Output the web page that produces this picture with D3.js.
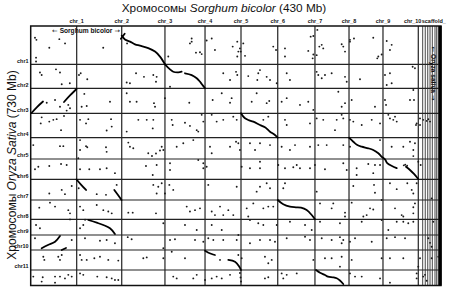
<!DOCTYPE html>
<html><head><meta charset="utf-8">
<script src="https://cdn.jsdelivr.net/npm/d3@7"></script>
<style>body{margin:0;background:#fff} svg{display:block}</style>
</head><body>
<script>
// ---- DATA ----
const sorghumChrs = ["chr_1","chr_2","chr_3","chr_4","chr_5","chr_6","chr_7","chr_8","chr_9","chr_10"];
const sorghumSizes = [48.2,47.2,45.3,42.0,37.7,38.5,39.0,35.7,35.6,37.0];
const scaffoldSizes = [4.6,2.7,2.6,2.4,2.4,2.8,1.8,1.7,0.6,0.6,0.6,0.6,0.6];
const scaffoldLabel = "scaffold_";
const riceChrs = ["chr1","chr2","chr3","chr4","chr5","chr6","chr7","chr8","chr9","chr10","chr11","chr12"];
const riceSizes = [107.7,67.6,70.3,68.6,59.9,57.1,58.3,54.3,44.1,42.2,56.3,43.6];
const sorghumTotal = 430, riceTotal = 730;

// synteny blocks [sorghum Mb, rice Mb]
const syntenyBlocks = [
 [[94.5,36],[98.5,22]],
 [[95.4,27],[98.8,38],[104.1,44],[109.3,51.5],[114.5,55.4],[123.2,62],[130.3,72],[135.5,86],[140.7,107.7]],
 [[140.7,107.7],[146,122],[149.4,128.6],[154.7,130.2],[158.2,128.6]],
 [[161.7,133],[168.7,138],[174,147],[177.4,156.7],[179.2,163],[182.7,175.3]],
 [[0.8,244.7],[6.6,228],[12.9,212.4]],
 [[34.9,213.8],[41.2,195.5],[48,177.2]],
 [[220.4,245.6],[222.2,253],[224.6,259.6],[228,264.4],[233.3,269.2],[240.3,278.5],[245.5,285],[250.8,297.3],[256,306.6],[258.9,314.2]],
 [[333.6,314.2],[338.1,325.5],[342.3,334.7],[346.9,339.5],[353.8,344],[359,348.8],[364.3,358],[367.8,367.7],[371.3,375],[373.7,386],[378.6,394],[383.6,400]],
 [[393.3,396],[397.5,405],[401.7,416],[406.2,430.4]],
 [[48,431.8],[52.7,446],[58,461.3]],
 [[87.6,461.3],[91.5,475.4],[95.2,489.5]],
 [[258.9,489.5],[264.7,501.6],[271.7,508.3],[278,510],[283.3,511],[289.2,517.6],[294.5,531.7],[297.9,543.8]],
 [[60.4,545.7],[69.2,553.3],[76.1,559.8],[83.1,569],[88.3,585]],
 [[11.5,625.3],[18.1,616],[25.5,606.8],[30.7,590.7]],
 [[32.5,630.1],[37,624.5]],
 [[182.7,632],[185.8,637],[189.7,641.4],[193.1,644.2]],
 [[207.1,658.2],[214.1,663],[218.6,677],[220.4,686.4]],
 [[299,686.4],[303.2,694],[308.4,700.4],[311.6,705],[317.1,707],[320.7,709.7],[324.1,716],[327.6,725.8]]
];

// scattered matches [sorghum Mb, rice Mb]
const dots = [
[4.5,33],[6,39],[30,37],[19.5,61],[36,49],[76,61],[5.6,89],[5.6,100],[101,49],
[9.7,131],[11.5,138],[26.5,122],[30.7,131],[32.5,164],[41,161],[50.6,138],[52.4,133],[59.3,150],[110.4,133],[118.7,143],[100.6,159],[104,161],
[56.2,191],[16.8,216],[25.5,208],[30.7,227],[39.4,222],[41.2,231.5],[37.7,238],[53.4,227],[58.7,225],[83.1,213],[104,213],[111,213],[100.6,189],
[11.5,257],[10.5,274],[19.5,269],[23.7,264],[27.2,262],[34.9,253],[31.8,293],[51.7,264],[60.4,262],[58,274],[84.2,262],[84.9,283],[79.6,294],[112.8,264],[121.6,264],[100.6,297],
[2.7,335],[30.7,338],[34.2,338],[51.7,321],[51.7,349],[58,338],[59.3,341],[78.9,341],[79.6,354],[104,339.5],[107.5,344],[102.3,328],[123.2,358],[8,396],[49.9,372],
[4.5,403],[19.5,394],[31.8,388],[37.7,391],[51.7,403],[61.4,403],[72.6,403],[79.6,400],[88.3,414],[120.8,394],
[19.5,471],[32.5,461],[35.9,473],[43,450],[50.3,456.5],[69.2,473],[78.9,475],[90.1,447],
[9,511],[20.2,497],[25.5,508],[39.4,518],[41.2,527],[51.7,508],[55.1,518],[69.2,503.5],[76.1,518],[81.3,522],[84.9,527],[102.3,525],[106.9,525],
[5.6,560],[9.7,569],[41.2,544],[55.1,560],[51.7,569],[57,545],[62,546],
[4.5,597],[43,602],[56.9,597],[72.6,604],[79.6,602],[88.3,611],[101.7,594],[105.8,600],
[13.2,649],[14.3,658],[28.9,649],[30.7,658],[32.5,644],[51.7,644],[53.4,658],[58.7,658],[66.7,653.5],[72.6,649],[81.3,658],[91.8,660],[118,653.5],[121.6,651],
[2.7,705],[12.6,707],[25.5,705],[30.7,705],[35.9,710],[39.4,700],[43,705],[51.7,696],[55.1,700],[69.8,705],[79.6,707],[84.9,710],[88.3,714.5],[91.8,714.5],[11.5,719],[25.5,722],
[166.9,49],[173.2,75],[179.2,79],[184.4,41],[211.7,58],[217.6,72],[224.6,84],[254.2,58],[257.1,67.5],[266.5,86],
[128.5,138],[132,143],[131.3,157],[146,171],[201.8,133],[215.2,129],[216.5,138],[208.9,152],[228,141],[238.5,133],[240.3,124],[247.3,143],[250.8,152],[237.5,152],[257.8,161],[268.3,133],[271.7,152],
[129.2,217],[130.3,227],[140.7,203],[166.2,216],[190.7,208],[200.2,189],[210.6,203],[208.9,216],[231.6,213],[236.8,189],[247.3,217],[250,211],[263,213],[268.3,203],
[128.5,264],[127.9,288],[147.8,264],[148.8,278.5],[161.7,272],[166.9,281],[174,293],[179.2,250],[180.9,269],[175.6,297],[189.7,250],[194.9,269],[201.8,264],[212.3,255],[215.9,264],[243.8,264],[249,255],[266.5,264],[268.3,278.5],
[139,349],[137.3,339.5],[153,339.5],[159.9,330],[170.4,321],[187.9,339.5],[189.7,358],[208.9,339.5],[215.2,325.5],[217.6,330],[219.3,349],[229.8,330],[235.1,349],[240.3,330],[250.8,335],[263,339.5],[271.7,349],[277,335],
[132,391],[175.6,377],[180.9,386],[184.4,396],[221.1,396],[240.3,400],[259.5,391],[278.8,391],[127.1,365.7],[131.3,358.7],[135.5,350.2],
[144.2,86],[168.7,35],[168.7,44],[177.4,74],[189.7,35],[193.1,67.5],[216.5,44],[219.3,63],[220.1,72],[222.8,49],[216.5,86],[266.5,63],
[293.4,30],[300.4,11],[290.9,70],[296.2,80],[295.5,91],[302.5,58],[305,53],[306.6,63],[299.7,82],[325.9,51.5],[327.6,58],[329.4,72],[334.6,39],[334.6,44],[338.8,35],[359,33],[373.1,42],[378.3,53],[376.5,67.5],[367.8,80],[364.3,86],[363.2,91],[296.2,28],
[299.7,129],[301.4,138],[305,147],[308.4,138],[315.4,133],[329.4,143],[331.2,157],[345.1,150],[371.3,138],[376.5,133],[373.1,166],[378.3,161],[402.7,119],
[282.2,222],[290.9,213],[296.2,236],[322.4,185],[329.4,217],[325.9,227],[336.4,208],[360.8,227],[371.3,208],[372.4,222],[397.5,208],[401,180],
[292.7,274],[299.7,260],[306.6,264],[320.7,264],[325.9,250],[327.6,260],[318.9,293],[334.6,264],[338.1,269],[346.9,278.5],[357.4,264],[366.1,274],[374.8,250],[376.5,260],[380,264],[381.8,255],[383.6,269],[411.4,264],[416.7,262.5],
[292.7,339.5],[301.4,335],[310.2,335],[327.6,335],[334.6,339.5],[366.1,321],[378.3,339.5],[390.5,339.5],[401,349],[402.7,330],
[297.9,391],[327.6,386],[341.6,400],[360.8,391],
[400.3,114.5],[401.7,208],[408,260],[415,267],[418.5,269],[404.5,274],[397.5,325.5],[403.8,278.5],[408,278.5],
[146,386],[146,405],[180.9,400],[240.3,382],[229.8,400],[266.5,400],[275.2,397.5],
[127.9,419],[128.5,447],[133.7,452],[137.3,442.5],[132,471],[140.7,471],[145.3,447],[149.4,461],[186.1,447],[215.9,452],[240.3,452],[236.8,466],[247.3,442.5],[250.8,456.5],[264.7,456.5],[266.5,442.5],
[131.3,527],[163.5,508],[166.9,522],[172.2,518],[177.4,513],[189.7,522],[193.1,532],[201.8,532],[198.4,508],[207.1,518],[212.3,532],[226.4,513],[233.3,499],[228,536],[243.8,513],[249,508],[254.2,508],
[139,555],[161.7,560],[174,574],[189.7,560],[200.2,574],[217.6,588],[229.8,546],[238.5,555],[243.8,560],[257.8,560],[271.7,550.5],
[146,602],[151.2,600],[172.2,602],[180.9,607],[186.1,597],[191.4,602],[201.8,602],[215.9,602],[229.8,611],[240.3,602],[250.8,602],[256,607],[268.3,597],
[139,625],[147.8,635],[139,653.5],[161.7,653.5],[198.4,658],[217.6,644],[221.1,653.5],[245.5,649],[252.6,658],[249,667.5],
[149.4,705],[153,710],[170.4,710],[174,700],[189.7,710],[194.9,705],[200.2,710],[208.9,700],[245.5,710],[249,707],[263,696],[264.7,710],[268.3,700],[278.8,696],[182.7,714.5],[219.3,694.8],[219.9,707.5],[220.4,718.7],
[282.2,400],[292.7,400],[308.4,403],[331.2,405],[341.6,419],[353.8,388],[366.1,391],[359,414],
[299.7,466],[338.1,450],[359.8,447],[360.8,469],[383.6,459],[376.5,442.5],[401,471],[404.5,442.5],[394.7,442.5],[399.3,461],
[303.2,499],[317.1,499],[315.4,513],[329.4,525],[329.4,536],[336.4,497],[348.6,536],[352.1,532],[355.6,513],[359,516],[367.8,489.5],[381.8,513],[388.8,532],[402.7,499],[401,527],[401,510],
[287.5,560],[294.5,574],[303.2,550.5],[324.1,555],[346.9,550.5],[367.8,546],[374.8,574],[383.6,550.5],[390.5,550.5],[395.7,555],[401,550.5],[421.9,550.5],[390.5,536],
[287.5,593],[292.7,602],[305,597],[315.4,602],[324.1,594],[327.6,602],[325.9,611],[334.6,607],[339.9,597],[357.4,607],[373.1,597],[381.8,594],[416.7,597],[418.5,610],[420.2,621],[392.3,597],
[296.2,658],[308.4,653.5],[315.4,653.5],[325.9,649],[336.4,658],[324.1,677],[367.8,653.5],[376.5,653.5],[390.5,653.5],[406.2,677],[427.2,649],[408,653.5],[420.2,653.5],
[334.6,696],[339.9,705],[346.9,705],[366.1,710],[376.5,722],[404.5,696],[413.2,700],[404.5,710],[411.4,705],[415,716.5],[420.2,485],[401,366],[406.2,382],[408.7,391],
[391,392],[392.5,390],[394.5,393]
];

// ---- DRAW ----
const W = 450, H = 291;
const svg = d3.select("body").append("svg").attr("width", W).attr("height", H)
  .style("font-family", "'Liberation Sans', Arial, sans-serif");
svg.append("rect").attr("width", W).attr("height", H).attr("fill", "#fff");

const x = d3.scaleLinear().domain([0, sorghumTotal]).range([30.7, 441]);
const y = d3.scaleLinear().domain([0, riceTotal]).range([26, 285.5]);

const sEnds = Array.from(d3.cumsum(sorghumSizes));
const scEnds = Array.from(d3.cumsum(scaffoldSizes)).map(v => v + sEnds[sEnds.length - 1]);
const rEnds = Array.from(d3.cumsum(riceSizes));

const grid = svg.append("g").attr("stroke", "#222").attr("stroke-width", 1.2).attr("fill", "none");
grid.selectAll(".sc").data(scEnds).join("line")
  .attr("x1", d => x(d)).attr("x2", d => x(d)).attr("y1", y(0)).attr("y2", y(riceTotal))
  .attr("stroke-width", 0.9).attr("stroke", "#333");
grid.selectAll(".sv").data(sEnds).join("line")
  .attr("x1", d => x(d)).attr("x2", d => x(d)).attr("y1", y(0)).attr("y2", y(riceTotal));
grid.selectAll(".rh").data(rEnds).join("line")
  .attr("x1", x(0)).attr("x2", x(sorghumTotal)).attr("y1", d => y(d)).attr("y2", d => y(d));
svg.append("rect").attr("x", x(0)).attr("y", y(0))
  .attr("width", x(sorghumTotal) - x(0)).attr("height", y(riceTotal) - y(0))
  .attr("fill", "none").attr("stroke", "#111").attr("stroke-width", 1.5);
svg.append("line").attr("x1", x(sorghumTotal) - 1).attr("x2", x(sorghumTotal) - 1)
  .attr("y1", y(0)).attr("y2", y(riceTotal)).attr("stroke", "#000").attr("stroke-width", 2.6);

// dots
svg.append("g").attr("fill", "#1a1a1a").selectAll("circle").data(dots).join("circle")
  .attr("cx", d => x(d[0])).attr("cy", d => y(d[1])).attr("r", 0.95);

// synteny lines
const line = d3.line().x(d => x(d[0])).y(d => y(d[1])).curve(d3.curveCatmullRom);
svg.append("g").attr("fill", "none").attr("stroke", "#000").attr("stroke-width", 1.8)
  .attr("stroke-linecap", "round")
  .selectAll("path").data(syntenyBlocks).join("path").attr("d", line);

// sorghum chromosome labels (top)
const lab = svg.append("g").attr("font-size", 5.4).attr("font-weight", "bold").attr("fill", "#111");
lab.selectAll(".tl").data(sorghumChrs.slice(0, 9)).join("text")
  .attr("x", (d, i) => x(sEnds[i])).attr("y", 22.6).attr("text-anchor", "middle").text(d => d);
lab.append("text").attr("x", x(sEnds[9]) + 3).attr("y", 22.6).attr("text-anchor", "end").text(sorghumChrs[9]);
lab.append("text").attr("x", x(sEnds[9]) + 3.5).attr("y", 22.6).attr("text-anchor", "start")
  .attr("textLength", 24).attr("lengthAdjust", "spacingAndGlyphs").text(scaffoldLabel);

// rice chromosome labels (left)
lab.selectAll(".ll").data(riceChrs.slice(0, 11)).join("text")
  .attr("x", 28.5).attr("y", (d, i) => y(rEnds[i]) - 1.6).attr("text-anchor", "end").text(d => d);

// species labels inside
function speciesLabel(g, name) {
  g.attr("text-anchor", "middle").attr("font-size", 6.6).attr("font-weight", "bold").attr("fill", "#111");
  g.append("tspan").attr("font-family", "'DejaVu Sans', sans-serif").attr("font-weight", "normal").text("\u2190 ");
  g.append("tspan").text(name);
  g.append("tspan").attr("font-family", "'DejaVu Sans', sans-serif").attr("font-weight", "normal").text(" \u2192");
}
speciesLabel(svg.append("text").attr("x", 86).attr("y", 33), "Sorghum bicolor");
speciesLabel(svg.append("text").attr("transform", "translate(430.6,73.5) rotate(90)"), "Oryza sativa");

// titles
const t = svg.append("text").attr("x", 224).attr("y", 11.6).attr("text-anchor", "middle")
  .attr("font-size", 11.8).attr("fill", "#111");
t.append("tspan").text("Хромосомы ");
t.append("tspan").attr("font-style", "italic").text("Sorghum bicolor");
t.append("tspan").text(" (430 Mb)");

const yt = svg.append("text").attr("transform", "translate(15.5,165) rotate(-90)").attr("text-anchor", "middle")
  .attr("font-size", 12).attr("fill", "#111");
yt.append("tspan").text("Хромосомы ");
yt.append("tspan").attr("font-style", "italic").text("Oryza Sativa");
yt.append("tspan").text(" (730 Mb)");
</script>
</body></html>
